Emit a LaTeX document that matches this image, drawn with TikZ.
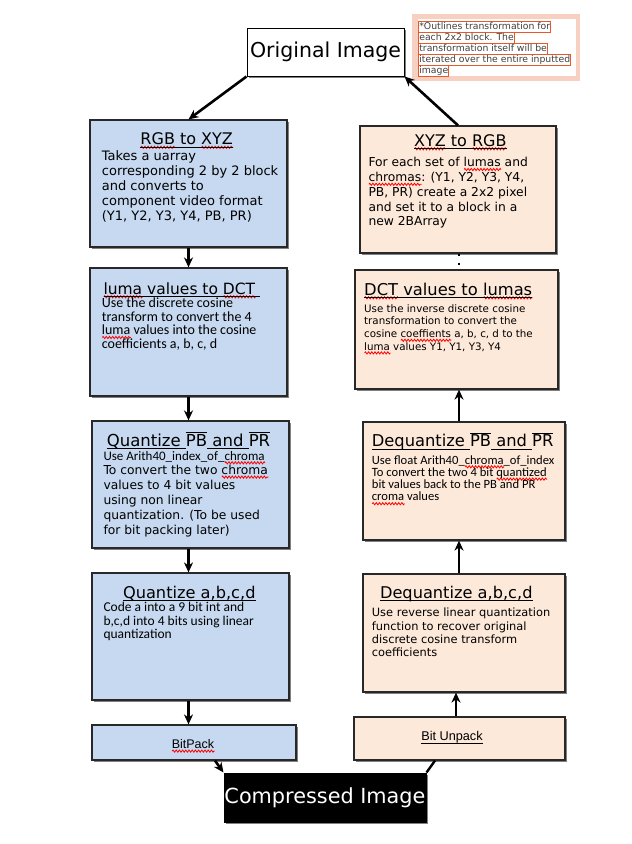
\documentclass[tikz,border=0pt]{standalone}
\usepackage{fontspec}
\setmainfont{DejaVu Sans}
\newfontfamily\carlito{Carlito}
\newfontfamily\arialike{Liberation Sans}
\usetikzlibrary{arrows.meta,shadows,decorations.pathmorphing}

\definecolor{boxblue}{RGB}{198,217,240}
\definecolor{boxpeach}{RGB}{253,233,217}
\definecolor{notebg}{RGB}{248,208,194}
\definecolor{noteline}{RGB}{228,90,40}
\definecolor{notetext}{RGB}{64,64,64}
\definecolor{frame}{RGB}{40,40,40}

% red wavy spell-check mark under a word
\newsavebox\splbox
\newcommand\spl[1]{\sbox\splbox{#1}%
  \smash{\rlap{\tikz[baseline=0pt,x=1pt,y=1pt]\draw[red,line width=0.8pt,decorate,
    decoration={zigzag,segment length=3.2pt,amplitude=1.1pt}] (0,-2.8) -- (\the\wd\splbox,-2.8);}}%
  \usebox\splbox}
% flat underline at a fixed depth for headings
\newcommand\ttlul[1]{\underline{\vrule width 0pt depth 0.05em\smash{#1}}}
\newcommand\ovl[1]{$\overline{\hbox{#1}}$}
\newcommand\fs[2]{\fontsize{#1}{#2}\selectfont}

\tikzset{
  shadowed/.style={drop shadow={shadow xshift=1.6pt, shadow yshift=-1.6pt, fill=black!50, opacity=1}},
  leftbox/.style={draw=frame, line width=1.2pt, fill=boxblue, inner sep=0pt, shadowed},
  rightbox/.style={draw=frame, line width=1.2pt, fill=boxpeach, inner sep=0pt, shadowed},
  endbox/.style={draw=black, line width=1pt, inner sep=0pt, shadowed},
  heading/.style={inner sep=0pt, anchor=base},
  headingw/.style={inner sep=0pt, anchor=base west},
  % multi-line bodies are placed by the baseline of their last line
  body/.style={inner sep=0pt, anchor=base west, align=left},
  noteln/.style={draw=noteline, line width=0.8pt, inner xsep=0.6pt, inner ysep=0.9pt,
    text height=7.3pt, text depth=2.3pt, anchor=base west, text=notetext, font=\fs{9.3}{11}},
  arr/.style={line width=2.6pt, draw=black, -{Stealth[length=10pt,width=9pt]}},
  plainln/.style={line width=2.4pt, draw=black},
  dots/.style={line width=2pt, draw=black, dash pattern=on 2pt off 7pt},
}

\begin{document}
\begin{tikzpicture}[x=1pt,y=-1pt]
\useasboundingbox (0,0) rectangle (632,844);
\fill[white] (0,0) rectangle (632,844);

% ---------- top and bottom images ----------
\node[endbox, fill=white, minimum width=157pt, minimum height=48pt, font=\fs{20.5}{24}]
  (orig) at (325.5,52) {Original Image};
\node[endbox, fill=black, text=white, minimum width=202pt, minimum height=49pt, font=\fs{20.8}{24}]
  (comp) at (325,797.5) {Compressed Image};

% ---------- note ----------
\node[fill=notebg, minimum width=168pt, minimum height=67pt, inner sep=0pt] (notebox) at (496,47.5) {};
\node[fill=white, minimum width=158pt, minimum height=57pt, inner sep=0pt] (notepaper) at (497,47.5) {};
\node[noteln] (n1) at (418.3,29.3) {*Outlines transformation for};
\node[noteln] (n2) at (418.3,40.3) {each 2x2 block. The};
\node[noteln] (n3) at (418.3,51.3) {transformation itself will be};
\node[noteln] (n4) at (418.3,62.3) {iterated over the entire inputted};
\node[noteln] (n5) at (418.3,73.3) {image};

% ---------- compression column ----------
\node[leftbox, minimum width=197pt, minimum height=127pt] (rgb) at (188.5,183.5) {};
\node[heading, font=\fs{16}{19}] (rgbT) at (186.7,144.5) {\ttlul{\spl{RGB} to \spl{XYZ}}};
\node[body, font=\fs{13}{15}] (rgbB) at (101.7,220.7)
  {Takes a uarray\\corresponding 2 by 2 block\\and converts to\\component video format\\(Y1, Y2, Y3, Y4, PB, PR)};

\node[leftbox, minimum width=197pt, minimum height=128pt] (luma) at (188.5,332) {};
\node[headingw, font=\fs{15.5}{19}] (lumaT) at (103.3,294) {\ttlul{\spl{luma} values to \spl{DCT} }};
\node[body, font=\carlito\fs{14}{13.5}] (lumaB) at (101.7,348.2)
  {Use the discrete cosine\\transform to convert the 4\\\spl{luma} values into the cosine\\coefficients a, b, c, d};

\node[leftbox, minimum width=197pt, minimum height=127pt] (qpb) at (190.5,484.5) {};
\node[heading, font=\fs{16.5}{19}] (qpbT) at (188.5,446)
  {\ttlul{Quantize }\ovl{PB}\ttlul{ and }\ovl{PR}};
\node[body, font=\carlito\fs{13}{15}] (qpbA) at (103.3,460) {Use Arith40\_index\_of\_\spl{chroma}};
\node[body, font=\fs{12.3}{15}] (qpbB) at (103.3,534.3)
  {To convert the two \spl{chroma}\\values to 4 bit values\\using non linear\\quantization. (To be used\\for bit packing later)};

\node[leftbox, minimum width=197pt, minimum height=127pt] (qabcd) at (190.5,636.5) {};
\node[heading, font=\fs{16.2}{19}] (qabcdT) at (189.3,598) {\ttlul{Quantize a,b,c,d}};
\node[body, font=\carlito\fs{13.5}{13.3}] (qabcdB) at (103.3,638.3)
  {Code a into a 9 bit int and\\b,c,d into 4 bits using linear\\quantization};

\node[leftbox, minimum width=204pt, minimum height=35pt] (bitpack) at (194,742.5) {};
\node[heading, font=\arialike\fs{12.5}{15}] (bitpackT) at (193,748.3) {\spl{BitPack}};

% ---------- decompression column ----------
\node[rightbox, minimum width=196pt, minimum height=127pt] (xyz) at (458,189.5) {};
\node[heading, font=\fs{16}{19}] (xyzT) at (460.3,146) {\ttlul{\spl{XYZ} to \spl{RGB}}};
\node[body, font=\fs{12.3}{14.8}] (xyzB) at (368.3,225.9)
  {For each set of \spl{lumas} and\\\spl{chromas}: (Y1, Y2, Y3, Y4,\\PB, PR) create a 2x2 pixel\\and set it to a block in a\\new 2BArray};

\node[rightbox, minimum width=203pt, minimum height=119pt] (dct) at (456.5,329.5) {};
\node[headingw, font=\fs{16.3}{19}] (dctT) at (364,295) {\ttlul{\spl{DCT} values to \spl{lumas}}};
\node[body, font=\fs{10.3}{12.6}] (dctB) at (364,350.1)
  {Use the inverse discrete cosine\\transformation to convert the\\cosine \spl{coeffients} a, b, c, d to the\\\spl{luma} values Y1, Y1, Y3, Y4};

\node[rightbox, minimum width=202pt, minimum height=118pt] (dqpb) at (464,481) {};
\node[headingw, font=\fs{16.3}{19}] (dqpbT) at (371.7,446.7)
  {\ttlul{Dequantize }\ovl{PB}\ttlul{ and }\ovl{PR}};
\node[body, font=\carlito\fs{12.6}{12.3}] (dqpbB) at (371.7,500.9)
  {Use float Arith40\_\spl{chroma}\_of\_index\\To convert the two 4 bit \spl{quantized}\\bit values back to the PB and PR\\\spl{croma} values};

\node[rightbox, minimum width=202pt, minimum height=118pt] (dqabcd) at (464,633) {};
\node[heading, font=\fs{16.2}{19}] (dqabcdT) at (456.3,598.3) {\ttlul{Dequantize a,b,c,d}};
\node[body, font=\fs{11.4}{13.3}] (dqabcdB) at (371.7,656.6)
  {Use reverse linear quantization\\function to recover original\\discrete cosine transform\\coefficients};

\node[rightbox, minimum width=211pt, minimum height=43pt] (bitun) at (459.5,738.5) {};
\node[heading, font=\arialike\fs{12.7}{15}] (bitunT) at (452,740.7) {\ttlul{Bit Unpack}};

% ---------- connectors ----------
\draw[arr] (orig.south west) -- (rgb.north);
\draw[arr] (xyz.north) -- (orig.south east);

\draw[arr] (rgb.south) -- (rgb.south |- luma.north);
\draw[arr] (luma.south) -- (luma.south |- qpb.north);
\draw[arr] ([xshift=-2pt]qpb.south) -- ([xshift=-2pt]qpb.south |- qabcd.north);
\draw[arr] ([xshift=-2pt]qabcd.south) -- ([xshift=-2pt]qabcd.south |- bitpack.north);
\draw[arr] ([xshift=21pt]bitpack.south) -- (comp.north west);

\draw[plainln] (comp.north east) -- ([xshift=-24.5pt]bitun.south);
\draw[arr] ([xshift=-3.5pt]bitun.north) -- ([xshift=-3.5pt]bitun.north |- dqabcd.south);
\draw[arr] ([xshift=-5pt]dqabcd.north) -- ([xshift=-5pt]dqabcd.north |- dqpb.south);
\draw[arr] ([xshift=-5pt]dqpb.north) -- ([xshift=-5pt]dqpb.north |- dct.south);
\draw[dots] ([xshift=2.5pt]dct.north |- xyz.south) -- ([xshift=2.5pt]dct.north);
\end{tikzpicture}
\end{document}
